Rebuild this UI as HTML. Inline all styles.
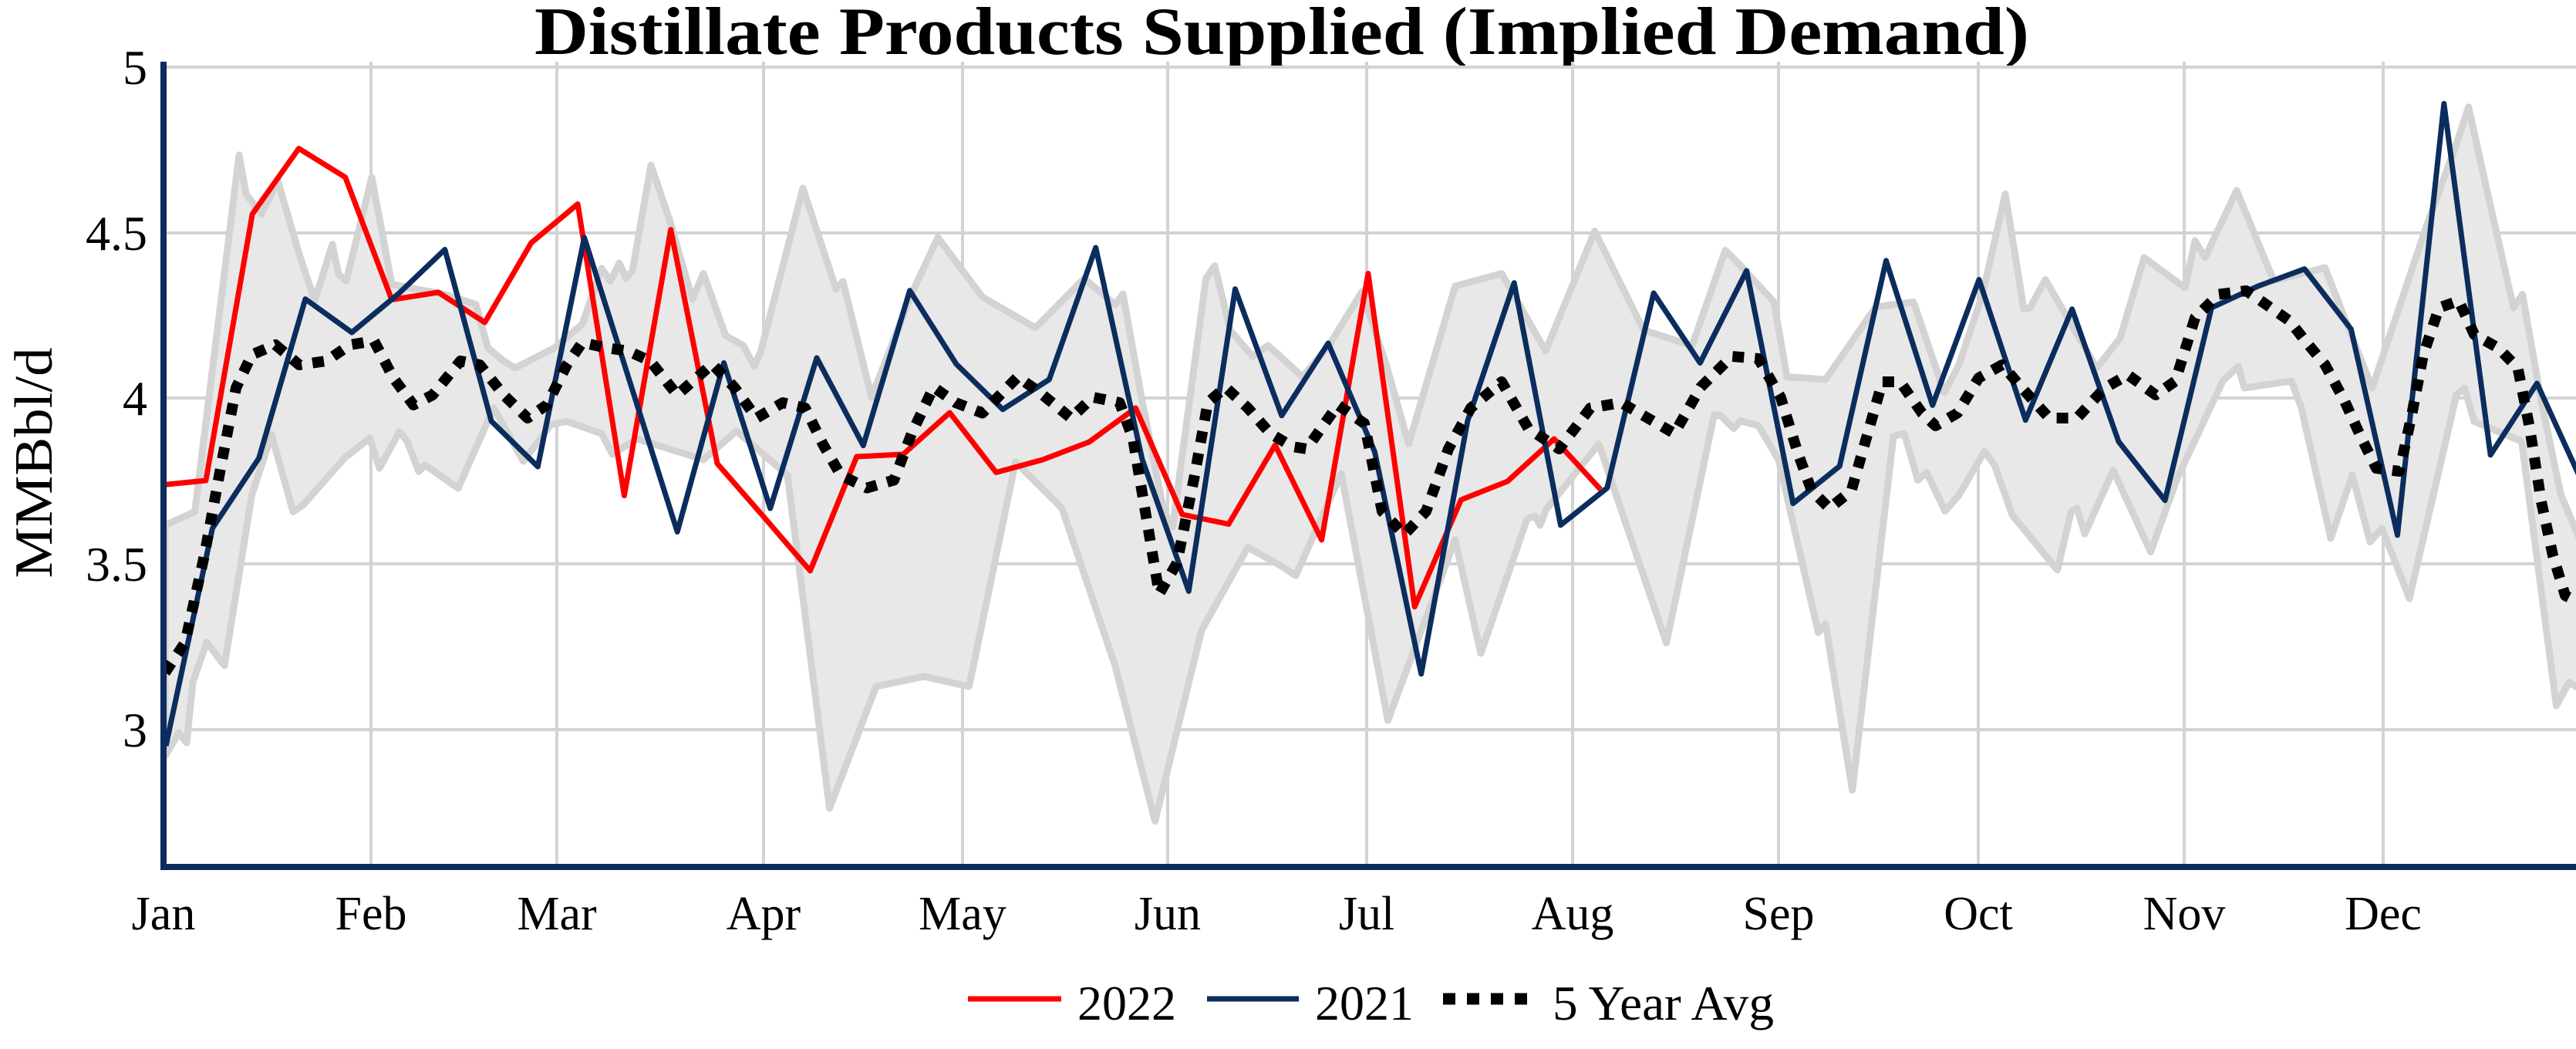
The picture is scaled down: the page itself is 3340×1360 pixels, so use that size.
<!DOCTYPE html>
<html><head><meta charset="utf-8"><style>html,body{margin:0;padding:0;background:#fff}svg{display:block}</style></head>
<body>
<svg width="3340" height="1360" viewBox="0 0 3340 1360" xmlns="http://www.w3.org/2000/svg" font-family="'Liberation Serif', serif">
<defs><clipPath id="pc"><rect x="212" y="80" width="3128" height="1044"/></clipPath></defs>
<rect width="3340" height="1360" fill="#fff"/>
<text x="1662" y="70" font-size="88" font-weight="bold" text-anchor="middle" textLength="1938" lengthAdjust="spacingAndGlyphs">Distillate Products Supplied (Implied Demand)</text>
<g stroke="#d3d3d3" stroke-width="4">
<line x1="212" y1="87" x2="3340" y2="87"/><line x1="212" y1="302" x2="3340" y2="302"/><line x1="212" y1="516" x2="3340" y2="516"/><line x1="212" y1="731" x2="3340" y2="731"/><line x1="212" y1="946" x2="3340" y2="946"/>
<line x1="481" y1="80" x2="481" y2="1124"/><line x1="722" y1="80" x2="722" y2="1124"/><line x1="990" y1="80" x2="990" y2="1124"/><line x1="1248" y1="80" x2="1248" y2="1124"/><line x1="1514" y1="80" x2="1514" y2="1124"/><line x1="1772" y1="80" x2="1772" y2="1124"/><line x1="2039" y1="80" x2="2039" y2="1124"/><line x1="2306" y1="80" x2="2306" y2="1124"/><line x1="2565" y1="80" x2="2565" y2="1124"/><line x1="2832" y1="80" x2="2832" y2="1124"/><line x1="3090" y1="80" x2="3090" y2="1124"/>
</g>
<g clip-path="url(#pc)" fill="none" stroke-linejoin="round">
<polygon fill="#e8e8e8" stroke="#d3d3d3" stroke-width="9" points="
214,681 252.6,663.5 310,201 319,251.5 339,277.5 360,234 388,329.6 408,390 431,316.6 439,355.6 449,364 482,230 508,368.6 530.6,373 576.5,381.6 617,394.6 632.7,451 653,468 668,477 719,451 755,420 780,348 791.5,364.7 803,341 811.6,361 820,351 844,214 869,287.6 897.7,388 912,354.6 940.7,435 963.7,448 978,475 986.6,455 1041,244 1084,374.7 1093,364.7 1130,515 1182,381 1216,308 1273.7,385 1342.6,425 1405.7,361 1446,395 1456,381 1480,515 1509,663 1520.5,683 1563.6,361 1575,344.6 1595,428 1624,462 1644,448 1660,462 1688.7,488.6 1723,448 1766,378 1798,475 1826.5,575.6 1886.7,371 1947,354.6 2004,455 2067.6,299.7 2131,428 2194,448 2237,324.5 2257,344.6 2300,391.5 2317,488.6 2367,492 2432,398 2481,391.5 2521,508.7 2540,472.7 2570.6,381.6 2600,251.5 2624,400.7 2632,399 2652,362.5 2683,416 2718.6,477 2749,438 2780,334 2833,373 2846,312 2859,334 2900,247 2948,364 3014.5,347 3075.7,503 3147,290.5 3185,186.5 3200.7,138.8 3223.7,243 3259,399 3270.6,381.6 3295,520 3320,640 3345,700
3345,893 3331,884.6 3314.5,915 3269.6,572.4 3208,546.4 3195.6,503 3185,511.7 3124,776 3088.5,685 3073,702.5 3050,616 3022,698 2984,529 2971,494 2910,503 2902,475 2882,494 2823,620 2788.5,715.5 2740,610 2703,692 2693,659 2685.4,663.5 2667.6,739 2609,667.8 2586,602.8 2573,585.4 2540,641.8 2522,662.7 2498,612.5 2486.6,622.5 2469,562 2455,565.6 2401.7,1024.4 2367,808.7 2357.5,820 2306,596 2280,552 2257,545.5 2248,555.5 2231,539 2222.6,537.5 2160.6,833.5 2073,575.6 2004.4,661 1997,681 1990,669 1980,672.8 1920,847 1886.7,699.6 1799.5,934 1739,614 1680,746.4 1660,733 1618,709.6 1558,817 1497.6,1064.6 1446,863.6 1377,659 1316.7,599 1256.5,890 1198,877 1136,890 1075.6,1048 1021,616 955,559 912,596 826,569 794,589 780,562 735,546.4 714,550.7 678.6,598 640,529 594,633 551,602.8 543,611.4 528,572.4 518,559.4 492,607 479.6,568 446.4,594 393,654.8 380,663.5 352,563.7 326.5,641.8 291,863 268,832.6 250,884.6 242,963 232,950 214,980"/>
<polyline stroke="#ff0000" stroke-width="7" points="206.6,629 266.9,623 327.2,277.5 387.4,192.5 447.7,229.8 508,388.6 568.3,379 628.6,418 688.8,314.8 749.1,264.5 809.4,642.6 869.7,297.7 930,601 990.2,670 1050.5,740 1110.8,592 1171.1,589 1231.4,535 1291.6,612.5 1351.9,596 1412.2,573 1472.5,529 1532.8,667 1593,679.5 1653.3,577 1713.6,700 1773.9,354.6 1834.2,786.6 1894.4,648 1954.7,624 2015,569 2075.3,634.6"/>
<polyline transform="translate(8.5,0)" stroke="#0b2d5e" stroke-width="7" points="206.6,967 266.9,685 327.2,594 387.4,387.7 447.7,431 508,381 568.3,323.5 628.6,546 688.8,605 749.1,308 809.4,499 869.7,689.5 930,470.5 990.2,659 1050.5,464 1110.8,577.6 1171.1,376.7 1231.4,472 1291.6,530.8 1351.9,492 1412.2,321 1472.5,595.7 1532.8,766.5 1593,374.7 1653.3,538.8 1713.6,445 1773.9,585.7 1834.2,873.7 1894.4,545.5 1954.7,366.7 2015,680.8 2075.3,632.6 2135.6,380 2195.8,470.5 2256.1,351 2316.4,652.7 2376.7,604.4 2437,337.9 2497.2,525.4 2557.5,362.5 2617.8,544.7 2678.1,400.7 2738.4,572.4 2798.6,648.7 2858.9,399 2919.2,371 2979.5,348.7 3039.8,426.7 3100,693.8 3160.3,134.4 3220.6,589.8 3280.9,497 3341.2,629"/>
<polyline stroke="#000" stroke-width="14" stroke-dasharray="15 14" points="214,872 240,833 265,720 286,607 306,503 326.5,460 357,447 388,473 423,468 454,447 485,442 510,490 536,525 561,512 597,468 622,473 653,512 684,542 709,525 735,473 755,444 786,451 814,455 843,468 878,512 923.5,472 952,502 981,542 1015,522 1044,529 1067,576 1090,616 1124,632.6 1159,622.5 1182,562 1210.5,502 1239,522 1273.7,535.5 1319.6,488.6 1348,508.7 1388.5,542 1417,515 1451.6,522 1469,569 1486,669 1503,770 1526,730 1549,616 1566,522 1589,502 1618,529 1647,562 1675.5,579 1694,582 1734.6,525 1769,549 1792,663 1820.7,693 1849,663 1878,582 1907,529 1947,495 1981.5,555.5 2021.6,582 2062,529 2102,522 2136.5,542 2171,562 2205,502 2245.5,462 2280,465 2308.7,515 2331.6,589 2349,636 2372,659 2400.5,636 2417.7,575.6 2440.7,495 2463.7,495 2492,535.5 2509.6,552 2538,535.5 2565.5,490 2596,473 2621.6,503 2657,542 2693,542 2729,503 2759,486 2795,512 2820.6,494 2846,412 2876.7,381.6 2912.4,377 2938,394.6 2968.6,416 2989,442 3014.5,472.7 3040,520 3060,564 3081,607 3111,611 3127,538 3142,460 3162.4,399 3188,390 3208,433.6 3239,451 3264.5,477 3280,555 3295,650.5 3310,720 3326,772 3345,782"/>
</g>
<line x1="212" y1="80" x2="212" y2="1128" stroke="#0b2d5e" stroke-width="8"/>
<line x1="208" y1="1124" x2="3340" y2="1124" stroke="#0b2d5e" stroke-width="8"/>
<g font-size="64" text-anchor="end">
<text x="191" y="109">5</text><text x="191" y="324">4.5</text><text x="191" y="538">4</text><text x="191" y="753">3.5</text><text x="191" y="968">3</text>
</g>
<g font-size="62" text-anchor="middle">
<text x="212" y="1205">Jan</text><text x="481" y="1205">Feb</text><text x="722" y="1205">Mar</text><text x="990" y="1205">Apr</text><text x="1248" y="1205">May</text><text x="1514" y="1205">Jun</text><text x="1772" y="1205">Jul</text><text x="2039" y="1205">Aug</text><text x="2306" y="1205">Sep</text><text x="2565" y="1205">Oct</text><text x="2832" y="1205">Nov</text><text x="3090" y="1205">Dec</text>
</g>
<text transform="translate(67,600) rotate(-90)" font-size="70" text-anchor="middle" textLength="299" lengthAdjust="spacingAndGlyphs">MMBbl/d</text>
<line x1="1255" y1="1295" x2="1376" y2="1295" stroke="#ff0000" stroke-width="7"/>
<text x="1397" y="1322" font-size="64">2022</text>
<line x1="1565" y1="1295" x2="1684" y2="1295" stroke="#0b2d5e" stroke-width="7"/>
<text x="1705" y="1322" font-size="64">2021</text>
<line x1="1871" y1="1295" x2="1981" y2="1295" stroke="#000" stroke-width="15" stroke-dasharray="16 15"/>
<text x="2013" y="1322" font-size="64" textLength="287" lengthAdjust="spacingAndGlyphs">5 Year Avg</text>
</svg>
</body></html>
